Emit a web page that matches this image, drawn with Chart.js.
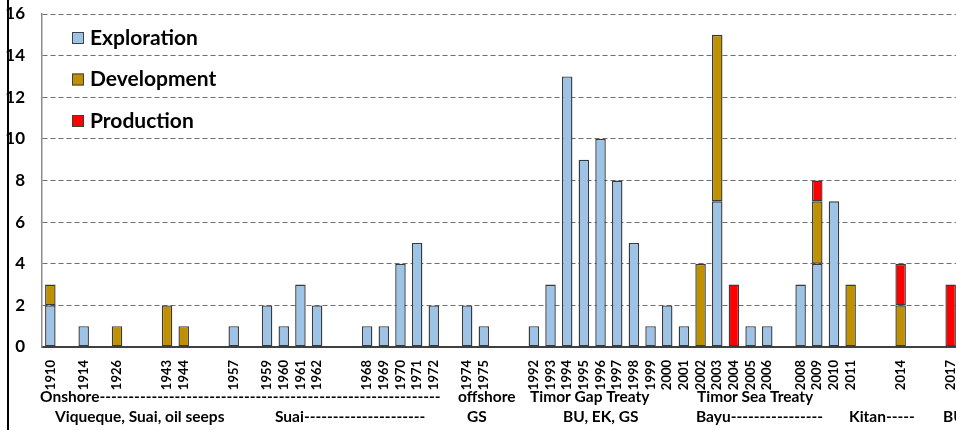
<!DOCTYPE html>
<html>
<head>
<meta charset="utf-8">
<script src="https://cdn.jsdelivr.net/npm/chart.js@4.4.1/dist/chart.umd.min.js"></script>
<style>
  html, body { margin: 0; padding: 0; background: #fff; overflow: hidden; width: 956px; height: 430px; }
  #wrap { position: absolute; left: 0; top: 0; width: 959px; height: 430px; }
</style>
</head>
<body>
<div id="wrap"><canvas id="grafico" width="959" height="430"></canvas></div>
<script>
const _ = null;

// Anos (slots vazios mantêm o espaçamento do original)
const anos = ['1910','','1914','','1926','','','1943','1944','','','1957','','1959','1960','1961','1962','','',
  '1968','1969','1970','1971','1972','','1974','1975','','','1992','1993','1994','1995','1996','1997','1998',
  '1999','2000','2001','2002','2003','2004','2005','2006','','2008','2009','2010','2011','','','2014','','','2017'];

const exploracao = [2,_,1,_,_,_,_,_,_,_,_,1,_,2,1,3,2,_,_,1,1,4,5,2,_,2,1,_,_,1,3,13,9,10,8,5,1,2,1,_,7,_,1,1,_,3,4,7,_,_,_,_,_,_,_];
const desenvolvimento = [1,_,_,_,1,_,_,2,1,_, _,_,_,_,_,_,_,_,_,_, _,_,_,_,_,_,_,_,_,_, _,_,_,_,_,_,_,_,_,4, 8,_,_,_,_,_,3,_,3,_, _,2,_,_,_];
const producao = [_,_,_,_,_,_,_,_,_,_, _,_,_,_,_,_,_,_,_,_, _,_,_,_,_,_,_,_,_,_, _,_,_,_,_,_,_,_,_,_, _,3,_,_,_,_,1,_,_,_, _,2,_,_,3];

const yMin = 0, yMax = 16, yPasso = 2;

// Textos por baixo do eixo: [texto, x inicial, linha, x final dos tracinhos]
const notas = [
  ['Onshore', 40, 0, 443],
  ['offshore', 458, 0, 0],
  ['Timor Gap Treaty', 530, 0, 0],
  ['Timor Sea Treaty', 697, 0, 0],
  ['Viqueque, Suai, oil seeps', 55, 1, 0],
  ['Suai', 275, 1, 431],
  ['GS', 467, 1, 0],
  ['BU, EK, GS', 563, 1, 0],
  ['Bayu', 696, 1, 826],
  ['Kitan', 849, 1, 917],
  ['BU', 943, 1, 0]
];

const FONTE = 'Lato, "Open Sans", sans-serif';

const extras = {
  id: 'extras',
  afterDraw(chart) {
    const ctx = chart.ctx;
    ctx.save();
    // legenda
    ctx.textBaseline = 'middle';
    ctx.font = 'bold 21px ' + FONTE;
    chart.data.datasets.forEach((ds, i) => {
      const y = 38 + i * 41.5;
      ctx.fillStyle = ds.backgroundColor;
      ctx.fillRect(72, y - 6, 12, 12);
      ctx.strokeStyle = '#404040';
      ctx.lineWidth = 1;
      ctx.strokeRect(72.5, y - 5.5, 11, 11);
      ctx.fillStyle = '#000';
      ctx.fillText(ds.label, 90, y);
    });
    // notas
    ctx.textBaseline = 'alphabetic';
    ctx.font = 'bold 15.5px ' + FONTE;
    notas.forEach(([txt, x, linha, fim]) => {
      let s = txt;
      if (fim) {
        while (x + ctx.measureText(s + '-').width <= fim) s += '-';
      }
      ctx.fillText(s, x, linha ? 422 : 402);
    });
    // linha preta à esquerda
    ctx.fillStyle = '#000';
    ctx.fillRect(7, 0, 2, chart.height);
    ctx.restore();
  }
};

new Chart(document.getElementById('grafico'), {
  type: 'bar',
  data: {
    labels: anos,
    datasets: [
      { label: 'Exploration', data: exploracao, backgroundColor: '#9DC3E6' },
      { label: 'Development', data: desenvolvimento, backgroundColor: '#BF9000' },
      { label: 'Production', data: producao, backgroundColor: '#FF0000' }
    ].map(d => Object.assign(d, {
      borderColor: '#3a3a3a', borderWidth: 1.4, borderSkipped: false,
      barPercentage: 0.63, categoryPercentage: 1
    }))
  },
  options: {
    responsive: false,
    animation: false,
    layout: { padding: { top: 14, left: 0, right: 0, bottom: 0 } },
    plugins: { legend: { display: false }, tooltip: { enabled: false } },
    scales: {
      x: {
        stacked: true,
        grid: { display: false },
        border: { display: true, color: '#404040', width: 2 },
        ticks: {
          autoSkip: false, minRotation: 90, maxRotation: 90, padding: 5,
          color: '#000', font: { family: FONTE, size: 13, weight: 'bold' }
        },
        afterFit: s => { s.height = 83; s.paddingLeft = 0; s.paddingRight = 0; }
      },
      y: {
        stacked: true,
        min: yMin, max: yMax,
        grid: { display: true, color: '#6e6e6e', lineWidth: 1, drawTicks: false, drawOnChartArea: true },
        border: { display: true, color: '#8c8c8c', width: 1.5, dash: [5, 3] },
        ticks: { stepSize: yPasso, padding: 17, color: '#000', font: { family: FONTE, size: 17, weight: 'bold' } },
        afterFit: s => { s.width = 42; s.paddingTop = 0; s.paddingBottom = 0; }
      }
    }
  },
  plugins: [extras]
});
</script>
</body>
</html>
